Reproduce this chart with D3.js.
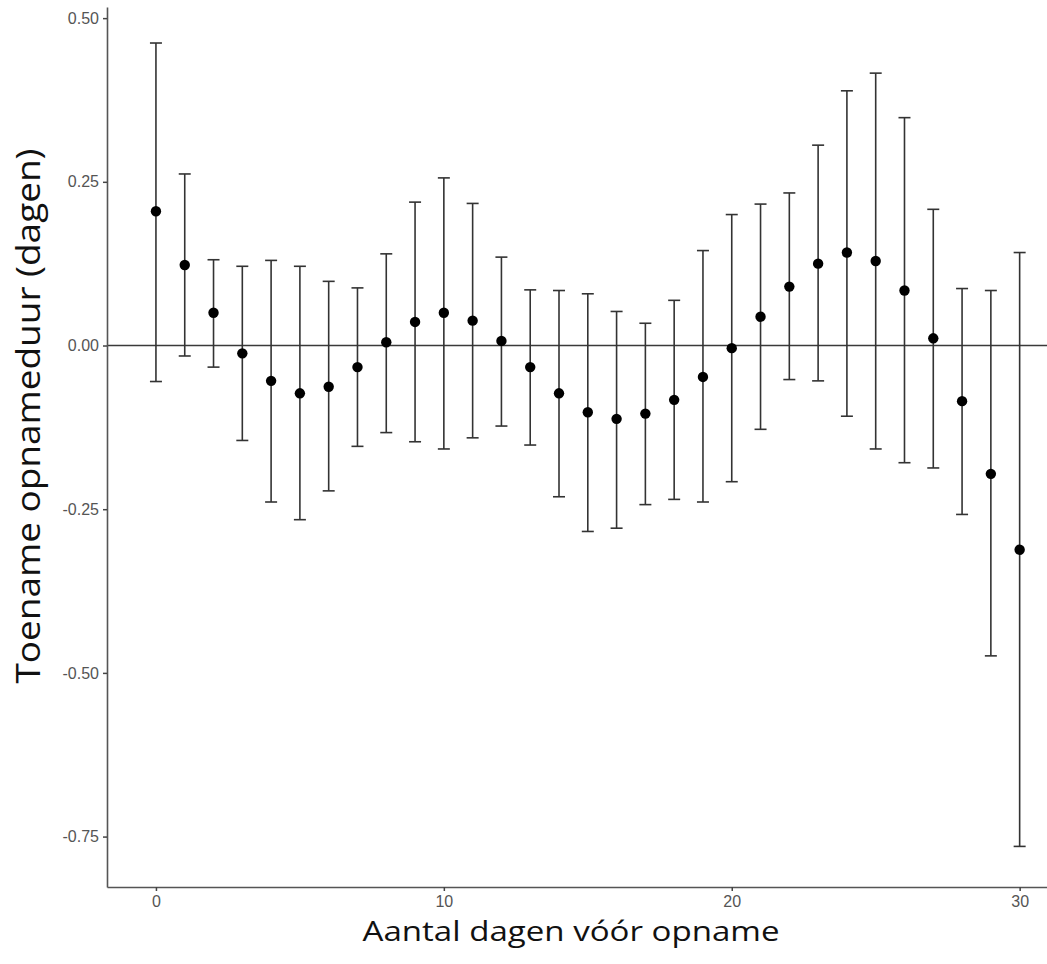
<!DOCTYPE html>
<html>
<head>
<meta charset="utf-8">
<script src="https://cdn.jsdelivr.net/npm/d3@7"></script>
<style>
  body { margin: 0; background: #fff; }
  .axis-title { font-family: "Open Sans", "Noto Sans", sans-serif; fill: #111; }
</style>
</head>
<body>
<svg id="chart" width="1047" height="964"></svg>
<script>
// Days before admission (x) with the estimate and the 95% interval
var days = [0, 1, 2, 3, 4, 5, 6, 7, 8, 9, 10, 11, 12, 13, 14, 15, 16, 17, 18, 19, 20, 21, 22, 23, 24, 25, 26, 27, 28, 29, 30];
var estimate = [0.205, 0.123, 0.050, -0.012, -0.054, -0.073, -0.063, -0.033, 0.005, 0.036, 0.050, 0.038, 0.007, -0.033, -0.073, -0.102, -0.112, -0.104, -0.083, -0.048, -0.004, 0.044, 0.090, 0.125, 0.142, 0.129, 0.084, 0.011, -0.085, -0.196, -0.312];
var upper = [0.462, 0.262, 0.131, 0.121, 0.130, 0.121, 0.098, 0.088, 0.140, 0.219, 0.256, 0.217, 0.135, 0.085, 0.084, 0.079, 0.052, 0.034, 0.069, 0.145, 0.200, 0.216, 0.233, 0.306, 0.389, 0.416, 0.348, 0.208, 0.087, 0.084, 0.142];
var lower = [-0.055, -0.016, -0.033, -0.145, -0.239, -0.266, -0.222, -0.154, -0.133, -0.147, -0.158, -0.141, -0.123, -0.152, -0.231, -0.284, -0.279, -0.243, -0.235, -0.239, -0.208, -0.128, -0.052, -0.054, -0.108, -0.158, -0.179, -0.187, -0.258, -0.474, -0.765];

var xTicks = [0, 10, 20, 30];
var yTicks = [0.50, 0.25, 0.00, -0.25, -0.50, -0.75];

var svg = d3.select("#chart");

// panel edges (axis lines sit on these)
var panelLeft = 107, panelRight = 1047, panelTop = 7, panelBottom = 887;

var x = d3.scaleLinear().domain([-1.7, 30.95]).range([panelLeft, panelRight]);
var y = d3.scaleLinear().domain([-0.827, 0.517]).range([panelBottom, panelTop]);

// R style labels: plain hyphen for negatives
function yLabel(v) { return v.toFixed(2); }

// reference line at zero
svg.append("line")
  .attr("x1", panelLeft).attr("x2", panelRight)
  .attr("y1", y(0)).attr("y2", y(0))
  .attr("stroke", "#3a3a3a")
  .attr("stroke-width", 1.5);

// Y axis
var yAxis = svg.append("g")
  .attr("transform", "translate(" + panelLeft + ",0)")
  .call(d3.axisLeft(y).tickValues(yTicks).tickFormat(yLabel).tickSize(4).tickSizeOuter(0).tickPadding(4));

// X axis
var xAxis = svg.append("g")
  .attr("transform", "translate(0," + panelBottom + ")")
  .call(d3.axisBottom(x).tickValues(xTicks).tickFormat(d3.format("d")).tickSize(4).tickSizeOuter(0).tickPadding(5));

[yAxis, xAxis].forEach(function(g) {
  g.attr("font-family", "'Liberation Sans', Arial, sans-serif").attr("font-size", 16);
  g.select(".domain").attr("stroke", "#555").attr("stroke-width", 1.6);
  g.selectAll(".tick line").attr("stroke", "#444").attr("stroke-width", 1.5);
  g.selectAll(".tick text").attr("fill", "#555");
});

// error bars
var bars = svg.append("g").selectAll("g")
  .data(days)
  .enter().append("g");

bars.append("line")
  .attr("x1", function(d) { return x(d); })
  .attr("x2", function(d) { return x(d); })
  .attr("y1", function(d, i) { return y(upper[i]); })
  .attr("y2", function(d, i) { return y(lower[i]); })
  .attr("stroke", "#333")
  .attr("stroke-width", 1.6);

[upper, lower].forEach(function(ends) {
  bars.append("line")
    .attr("x1", function(d) { return x(d) - 6; })
    .attr("x2", function(d) { return x(d) + 6; })
    .attr("y1", function(d, i) { return y(ends[i]); })
    .attr("y2", function(d, i) { return y(ends[i]); })
    .attr("stroke", "#333")
    .attr("stroke-width", 1.6);
});

// points
svg.append("g").selectAll("circle")
  .data(days)
  .enter().append("circle")
  .attr("cx", function(d) { return x(d); })
  .attr("cy", function(d, i) { return y(estimate[i]); })
  .attr("r", 5.2)
  .attr("fill", "#000");

// axis titles
svg.append("text")
  .attr("class", "axis-title")
  .attr("x", 571)
  .attr("y", 941)
  .attr("text-anchor", "middle")
  .attr("textLength", 417)
  .attr("lengthAdjust", "spacingAndGlyphs")
  .style("font-size", "28px")
  .text("Aantal dagen vóór opname");

svg.append("text")
  .attr("class", "axis-title")
  .attr("transform", "translate(40,416) rotate(-90)")
  .attr("text-anchor", "middle")
  .attr("textLength", 535)
  .attr("lengthAdjust", "spacingAndGlyphs")
  .style("font-size", "32px")
  .text("Toename opnameduur (dagen)");
</script>
</body>
</html>
